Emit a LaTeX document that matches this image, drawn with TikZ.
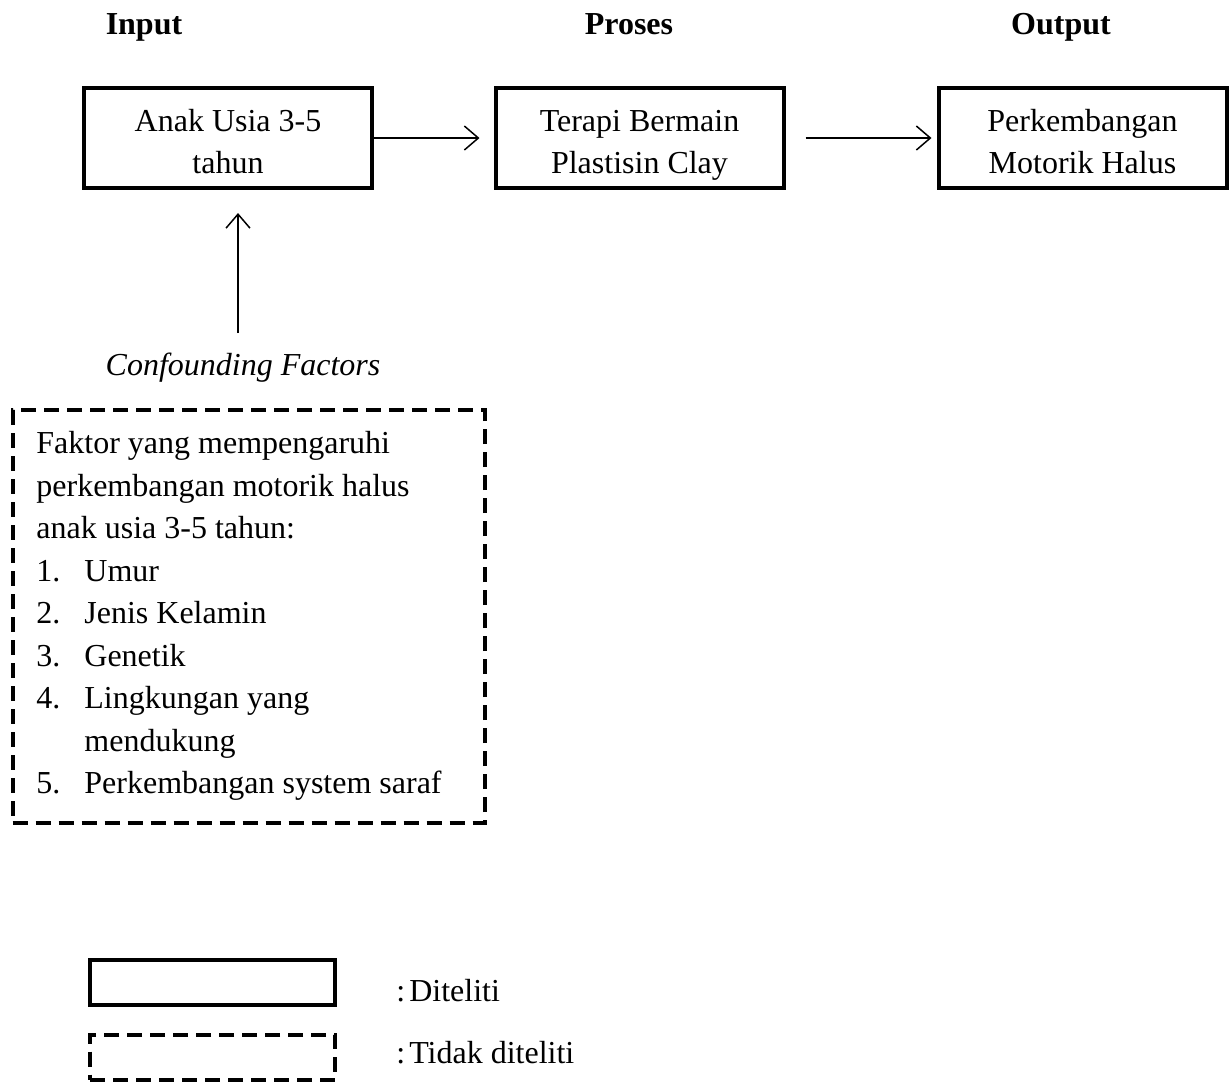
\documentclass[tikz,border=0pt]{standalone}
\usepackage{fontspec}
\setmainfont{Liberation Serif}
\usetikzlibrary{arrows.meta}
\newcommand\bxstrut{\rule[-3.5pt]{0pt}{21.25pt}}
\begin{document}
\begin{tikzpicture}[x=0.5pt,y=-0.5pt,
  txt/.style={font=\fontsize{16}{21.25}\selectfont},
  box/.style={txt, draw, line width=2pt, minimum width=144pt, minimum height=50pt, align=center, inner sep=0pt},
  dbox/.style={draw, line width=2pt, dash pattern=on 7.5pt off 4pt, inner sep=0pt},
  arr/.style={line width=0.75pt, -{Straight Barb[length=7pt,width=12pt,line width=0.75pt]}},
  head/.style={font=\fontsize{16}{21.25}\selectfont\bfseries, anchor=base, inner sep=0pt}]
\useasboundingbox (0,0) rectangle (1231,1083);
% headers
\node[head] (hin) at (144,34) {Input};
\node[head] (hpr) at (629,34) {Proses};
\node[head] (hout) at (1061,34) {Output};
% main boxes
\node[box] (b1) at (228,138) {\bxstrut Anak Usia 3-5\\\bxstrut tahun};
\node[box] (b2) at (639.5,138) {\bxstrut Terapi Bermain\\\bxstrut Plastisin Clay};
\node[box] (b3) at (1082.5,138) {\bxstrut Perkembangan\\\bxstrut Motorik Halus};
\draw[arr, shorten >=7pt] (b1.east) -- (b2.west);
\draw[arr, shorten <=10pt, shorten >=2.5pt] (b2.east) -- (b3.west);
% confounding
\coordinate (cf) at (238,333);
\draw[arr, shorten >=11.5pt] (cf) -- (cf |- b1.south);
\node[font=\fontsize{16}{21.25}\selectfont\itshape, anchor=base, inner sep=0pt] (cft) at (243,375) {Confounding Factors};
\node[dbox, minimum width=236pt, minimum height=206.5pt] (fac) at (248.5,616.5) {};
\node[txt, align=left, anchor=north west, inner sep=0pt] (factxt) at (36,431) {%
Faktor yang mempengaruhi\\
perkembangan motorik halus\\
anak usia 3-5 tahun:\\
\makebox[24pt][l]{1.}Umur\\
\makebox[24pt][l]{2.}Jenis Kelamin\\
\makebox[24pt][l]{3.}Genetik\\
\makebox[24pt][l]{4.}Lingkungan yang\\
\hspace*{24pt}mendukung\\
\makebox[24pt][l]{5.}Perkembangan system saraf};
% legend
\node[draw, line width=2pt, minimum width=122.5pt, minimum height=22.5pt, inner sep=0pt] (lg1) at (212.5,982.5) {};
\node[dbox, minimum width=122.5pt, minimum height=22.5pt] (lg2) at (212.5,1057) {};
\node[txt, anchor=base west, inner sep=0pt] (lt1) at (396,1001) {:\hspace{2pt}Diteliti};
\node[txt, anchor=base west, inner sep=0pt] (lt2) at (396,1063) {:\hspace{2pt}Tidak diteliti};
\end{tikzpicture}
\end{document}
